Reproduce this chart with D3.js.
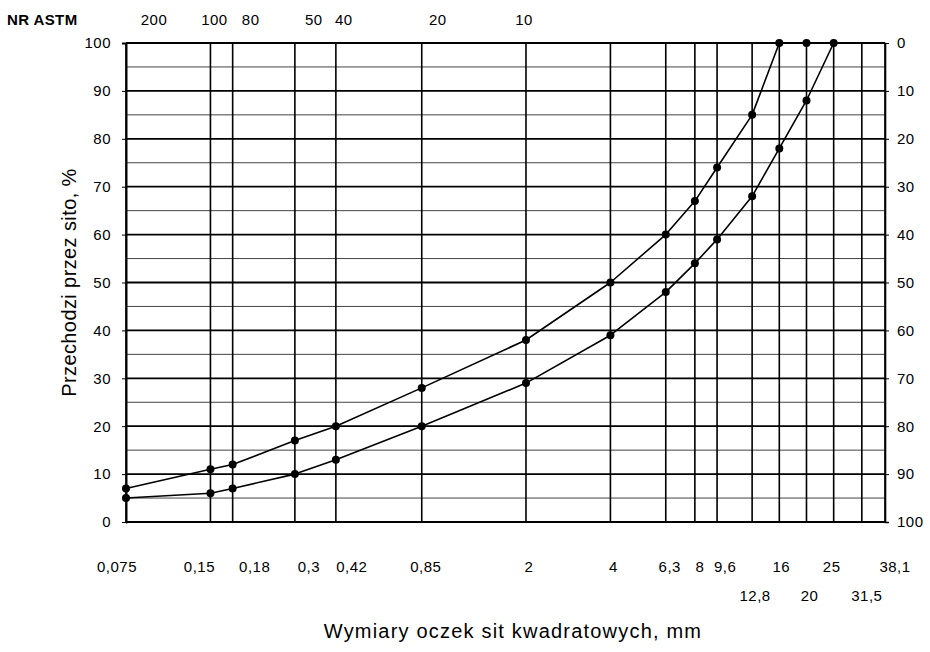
<!DOCTYPE html>
<html>
<head>
<meta charset="utf-8">
<script src="https://cdn.jsdelivr.net/npm/d3@7"></script>
<style>
  html, body { margin: 0; padding: 0; background: #fff; }
  svg { display: block; font-family: "Liberation Sans", Arial, sans-serif; }
  .axis path, .axis line { stroke: #000; }
  .axis text { font-size: 15px; letter-spacing: 0.5px; fill: #000; }
</style>
</head>
<body>
<div id="chart"></div>
<script>
////////////////////////////////////////////////////////////////////
//////////////////////////////  Data  //////////////////////////////
// sieve sizes, mm (bottom axis)
const sieves = [0.075, 0.15, 0.18, 0.3, 0.42, 0.85, 2, 4, 6.3, 8, 9.6, 12.8, 16, 20, 25, 31.5, 38.1];
const sieveLabels = ["0,075", "0,15", "0,18", "0,3", "0,42", "0,85", "2", "4", "6,3", "8", "9,6", "12,8", "16", "20", "25", "31,5", "38,1"];

// ASTM sieve numbers (top axis)
const astmSieves = [0.075, 0.15, 0.18, 0.3, 0.42, 0.85, 2];
const astmNumbers = ["200", "100", "80", "50", "40", "20", "10"];

// grading limits, % passing
const upperSizes = [0.075, 0.15, 0.18, 0.3, 0.42, 0.85, 2, 4, 6.3, 8, 9.6, 12.8, 16, 20];
const upperPass = [7, 11, 12, 17, 20, 28, 38, 50, 60, 67, 74, 85, 100, 100];
const lowerSizes = [0.075, 0.15, 0.18, 0.3, 0.42, 0.85, 2, 4, 6.3, 8, 9.6, 12.8, 16, 20, 25];
const lowerPass = [5, 6, 7, 10, 13, 20, 29, 39, 48, 54, 59, 68, 78, 88, 100];

const yTicks = d3.range(0, 101, 10);
const yMinor = d3.range(5, 100, 10);

////////////////////////////////////////////////////////////////////
/////////////////////////////  Layout  /////////////////////////////
const width = 930;
const height = 652;
const margin = { top: 43, right: 45, bottom: 130, left: 126 };

// hand placement of crowded labels, px shift from the sieve line
const bottomNudge = { "0,075": -9, "0,15": -11, "0,18": 22, "0,3": 14, "0,42": 16, "0,85": 4, "2": 3, "4": 3, "6,3": 4, "8": 5, "9,6": 8, "12,8": 3, "16": 2, "20": 3, "25": -2, "31,5": 5, "38,1": 10 };
const secondRow = ["12,8", "20", "31,5"];
const topNudge = { "200": 28, "100": 4, "80": 18, "50": 19, "40": 8, "20": 16, "10": -2 };

const svg = d3.select("#chart").append("svg")
  .attr("width", width)
  .attr("height", height);

// scale
const xScale = d3.scaleLog()
  .domain([0.075, 38.1])
  .range([margin.left, width - margin.right]);
const yScale = d3.scaleLinear()
  .domain([0, 100])
  .range([height - margin.bottom, margin.top]);
// retained on sieve (right axis)
const yRight = d3.scaleLinear()
  .domain([0, 100])
  .range([margin.top, height - margin.bottom]);

const x0 = xScale.range()[0], x1 = xScale.range()[1];
const y0 = yScale.range()[0], y1 = yScale.range()[1];

////////////////////////////////////////////////////////////////////
/////////////////////////////  Grid  ///////////////////////////////
const grid = svg.append("g").attr("class", "grid");

// half-ten lines
grid.selectAll(".minor")
  .data(yMinor)
  .join("line")
  .attr("class", "minor")
  .attr("x1", x0).attr("x2", x1)
  .attr("y1", (d) => yScale(d)).attr("y2", (d) => yScale(d))
  .attr("stroke", "#444")
  .attr("stroke-width", 1);

// ten lines
grid.selectAll(".major")
  .data(yTicks)
  .join("line")
  .attr("class", "major")
  .attr("x1", x0).attr("x2", x1)
  .attr("y1", (d) => yScale(d)).attr("y2", (d) => yScale(d))
  .attr("stroke", "#000")
  .attr("stroke-width", 1.8);

// sieve lines
grid.selectAll(".vert")
  .data(sieves)
  .join("line")
  .attr("class", "vert")
  .attr("x1", (d) => xScale(d)).attr("x2", (d) => xScale(d))
  .attr("y1", y1).attr("y2", y0)
  .attr("stroke", "#000")
  .attr("stroke-width", 1.6);

////////////////////////////////////////////////////////////////////
/////////////////////////////  Axes  ///////////////////////////////
const yAxis = d3.axisLeft(yScale).tickValues(yTicks).tickSize(4).tickPadding(11);
svg.append("g")
  .attr("class", "axis y-axis")
  .attr("transform", `translate(${x0},0)`)
  .call(yAxis)
  .call((g) => g.select(".domain").attr("stroke-width", 2));

const yAxisRight = d3.axisRight(yRight).tickValues(yTicks).tickSize(4).tickPadding(8);
svg.append("g")
  .attr("class", "axis y-axis-right")
  .attr("transform", `translate(${x1},0)`)
  .call(yAxisRight)
  .call((g) => g.select(".domain").attr("stroke-width", 1.6));

svg.selectAll(".axis .domain").attr("d", function () {
  return d3.select(this).attr("d").replace(/M[-\d.]+,/, "M0,");
});

// bottom sieve labels
svg.append("g")
  .attr("class", "axis x-labels")
  .selectAll("text")
  .data(sieveLabels)
  .join("text")
  .attr("x", (d, i) => xScale(sieves[i]) + bottomNudge[d])
  .attr("y", (d) => (secondRow.includes(d) ? 601 : 572))
  .attr("text-anchor", "middle")
  .text((d) => d);

// top ASTM numbers
svg.append("g")
  .attr("class", "axis x-top")
  .selectAll("text")
  .data(astmNumbers)
  .join("text")
  .attr("x", (d, i) => xScale(astmSieves[i]) + topNudge[d])
  .attr("y", 25)
  .attr("text-anchor", "middle")
  .text((d) => d);

svg.append("text")
  .attr("x", 7)
  .attr("y", 25)
  .attr("font-size", 15)
  .attr("font-weight", "bold")
  .attr("letter-spacing", 0.4)
  .text("NR ASTM");

// axis titles
svg.append("text")
  .attr("transform", `translate(76,${(y0 + y1) / 2}) rotate(-90)`)
  .attr("text-anchor", "middle")
  .attr("font-size", 20)
  .attr("letter-spacing", 0.4)
  .text("Przechodzi przez sito, %");

svg.append("text")
  .attr("x", 513)
  .attr("y", 638)
  .attr("text-anchor", "middle")
  .attr("font-size", 20)
  .attr("letter-spacing", 1.2)
  .text("Wymiary oczek sit kwadratowych, mm");

////////////////////////////////////////////////////////////////////
////////////////////////////  Curves  //////////////////////////////
const line = d3.line()
  .x((d) => xScale(d[0]))
  .y((d) => yScale(d[1]));

const series = [
  d3.zip(upperSizes, upperPass),
  d3.zip(lowerSizes, lowerPass)
];

svg.selectAll(".curve")
  .data(series)
  .join("path")
  .attr("class", "curve")
  .attr("fill", "none")
  .attr("stroke", "#000")
  .attr("stroke-width", 1.6)
  .attr("stroke-linejoin", "round")
  .attr("d", line);

svg.selectAll(".pts")
  .data(series)
  .join("g")
  .attr("class", "pts")
  .selectAll("circle")
  .data((d) => d)
  .join("circle")
  .attr("cx", (d) => xScale(d[0]))
  .attr("cy", (d) => yScale(d[1]))
  .attr("r", 4)
  .attr("fill", "#000");
</script>
</body>
</html>
